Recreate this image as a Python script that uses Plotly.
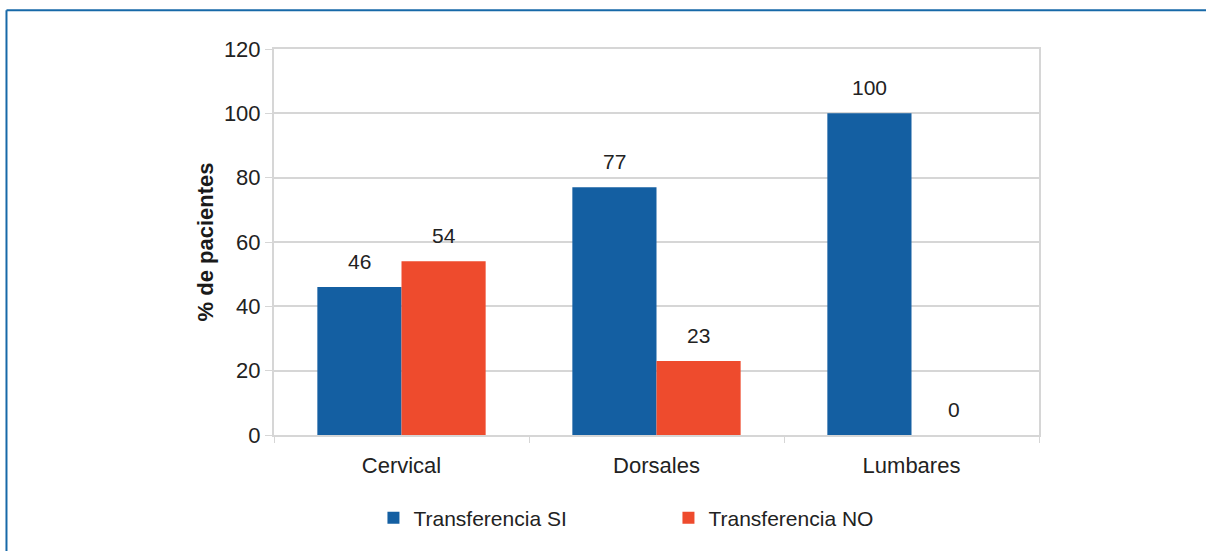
import plotly.graph_objects as go

categories = ["Cervical", "Dorsales", "Lumbares"]
series_names = ["Transferencia SI", "Transferencia NO"]
si_values = [46, 77, 100]
no_values = [54, 23, 0]
y_ticks = [0, 20, 40, 60, 80, 100, 120]

BLUE = "#145fa2"
ORANGE = "#ee4b2d"
TXT = "#222222"
GRID = "#d6d6d6"
FONT = "Liberation Sans, Arial, sans-serif"

fig = go.Figure()
fig.add_trace(go.Bar(x=categories, y=si_values, name=series_names[0],
                     marker=dict(color=BLUE, line=dict(width=0))))
fig.add_trace(go.Bar(x=categories, y=no_values, name=series_names[1],
                     marker=dict(color=ORANGE, line=dict(width=0))))

annotations = []
for vals, shift in ((si_values, -42), (no_values, 42)):
    for c, v in zip(categories, vals):
        annotations.append(dict(x=c, y=v, xref="x", yref="y", text=str(v),
                                showarrow=False, xshift=shift, yshift=26,
                                yanchor="middle",
                                font=dict(family=FONT, size=21, color=TXT)))

fig.update_layout(
    width=1206, height=551,
    margin=dict(l=274, r=167, t=49, b=114),
    paper_bgcolor="white", plot_bgcolor="white",
    barmode="group", bargap=0.34, bargroupgap=0,
    font=dict(family=FONT, size=21, color=TXT),
    showlegend=True,
    legend=dict(orientation="h", x=0.13, xanchor="left", y=-0.215, yanchor="middle",
                entrywidth=250, font=dict(family=FONT, size=21, color=TXT),
                itemclick=False, traceorder="normal"),
    annotations=annotations,
    shapes=[
        dict(type="line", xref="paper", yref="paper",
             x0=-0.3497, x1=1.3, y0=1.1005, y1=1.1005,
             line=dict(color="#1769a8", width=2)),
        dict(type="line", xref="paper", yref="paper",
             x0=-0.3497, x1=-0.3497, y0=1.1005, y1=-0.4,
             line=dict(color="#1769a8", width=2)),
    ],
)
fig.update_xaxes(showline=True, linecolor=GRID, linewidth=2, mirror=True,
                 ticks="outside", tickson="boundaries", ticklen=6, tickcolor=GRID,
                 tickfont=dict(family=FONT, size=22, color=TXT), showgrid=False,
                 ticklabelstandoff=10)
fig.update_yaxes(range=[0, 120], tickvals=y_ticks, showline=True, linecolor=GRID,
                 linewidth=2, mirror=True, showgrid=True, gridcolor=GRID, gridwidth=1.5,
                 ticks="outside", ticklen=7, tickcolor=GRID, zeroline=False,
                 tickfont=dict(family=FONT, size=22, color=TXT),
                 title=dict(text="<b>% de pacientes</b>", standoff=4,
                            font=dict(family=FONT, size=22, color="#1a1a1a")))

fig.write_html("out.html", config={"displayModeBar": False},
               post_script="document.body.style.margin='0px';document.body.style.overflow='hidden';")
